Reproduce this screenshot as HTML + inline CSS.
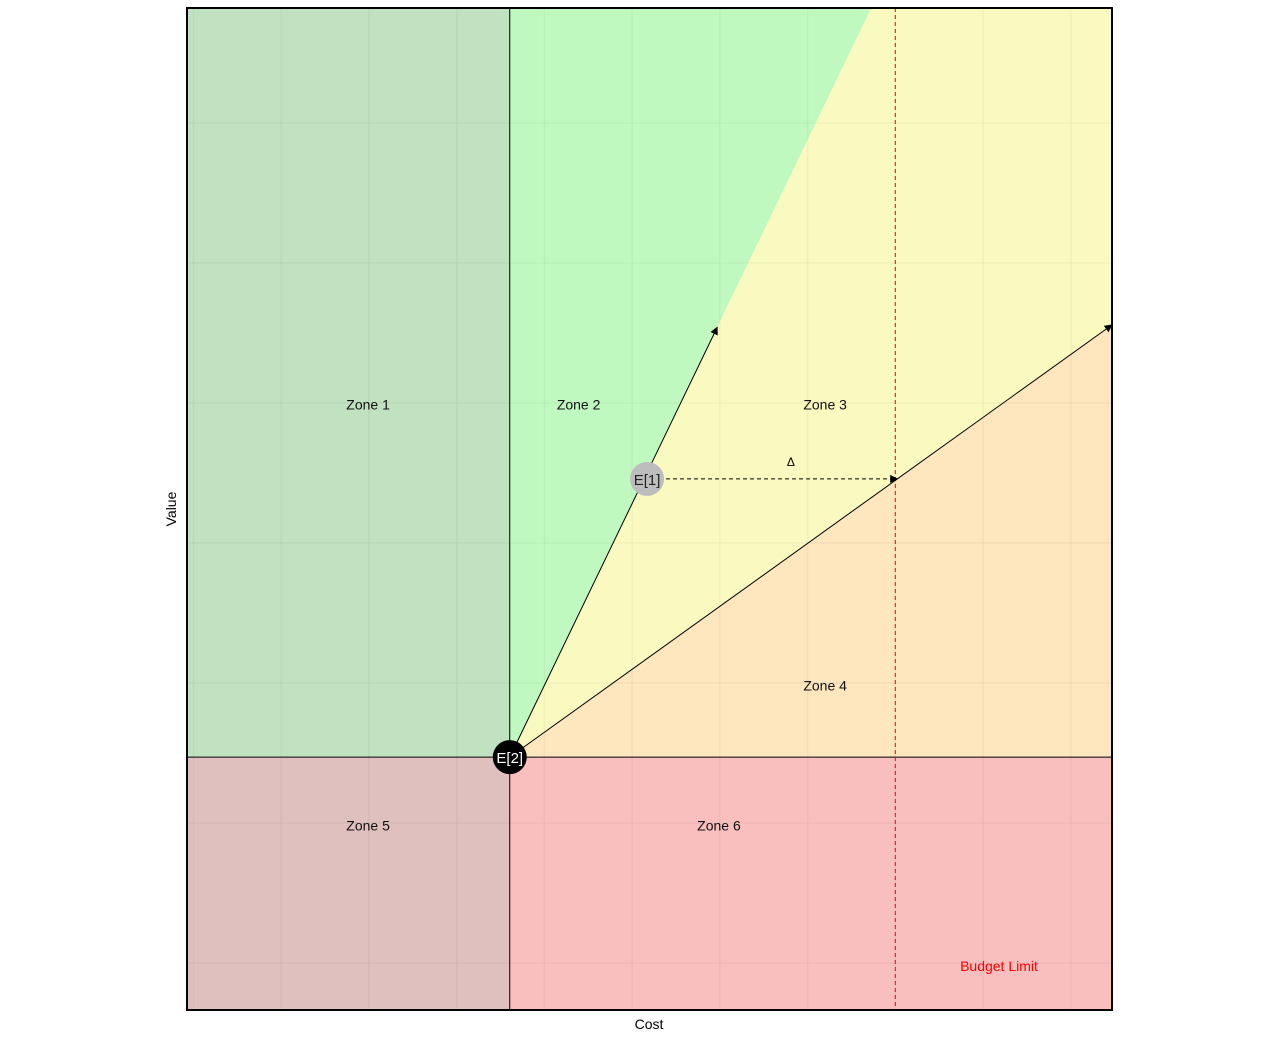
<!DOCTYPE html>
<html><head><meta charset="utf-8"><style>
html,body{margin:0;padding:0;background:#fff;}
svg{display:block;font-family:"Liberation Sans",Arial,sans-serif;}
</style></head><body>
<svg id="chart" width="1277" height="1040" viewBox="0 0 1277 1040" xmlns="http://www.w3.org/2000/svg">
<defs>
<marker id="arr" viewBox="0 0 10 10" refX="9" refY="5" markerWidth="8" markerHeight="8" markerUnits="userSpaceOnUse" orient="auto"><path d="M0,0 L10,5 L0,10 z" fill="#000"/></marker>
<clipPath id="clip"><rect x="187" y="8" width="925" height="1002"/></clipPath>
</defs>
<g id="plot" clip-path="url(#clip)"></g>
<g id="over"></g>
<rect x="187" y="8" width="925" height="1002" fill="none" stroke="#000" stroke-width="2"/>
<text x="649" y="1029" font-size="14" text-anchor="middle">Cost</text>
<text x="176" y="509" font-size="14" text-anchor="middle" transform="rotate(-90 176 509)">Value</text>
</svg>
<script>
// data
const xDomain = [-0.074, 10.47];
const yDomain = [-0.336, 6.82];
const xGrid = [0,1,2,3,4,5,6,7,8,9,10];
const yGrid = [0,1,2,3,4,5,6];
const e2 = [3.605, 1.47];
const e1 = [5.17, 3.457];
const arrow1End = [5.97, 4.54];
const arrow2End = [10.47, 4.557];
const budget = [8.0];
const zoneNames = ["Zone 1","Zone 2","Zone 3","Zone 4","Zone 5","Zone 6"];
const zoneLabelX = [1.99, 4.39, 7.20, 7.20, 1.99, 5.99];
const zoneLabelY = [3.99, 3.99, 3.99, 1.98, 0.98, 0.98];
const deltaLabelX = [6.81];

const X0=187,X1=1112,Y0=1010,Y1=8;
const sx=v=>X0+(v-xDomain[0])/(xDomain[1]-xDomain[0])*(X1-X0);
const sy=v=>Y0-(v-yDomain[0])/(yDomain[1]-yDomain[0])*(Y0-Y1);
const NS="http://www.w3.org/2000/svg";
const plot=document.getElementById('plot'), over=document.getElementById('over');
function mk(tag,attrs,parent){const el=document.createElementNS(NS,tag);for(const k in attrs)el.setAttribute(k,attrs[k]);parent.appendChild(el);return el;}

const ex=sx(e2[0]), ey=sy(e2[1]);
const d1x=sx(arrow1End[0])-ex, d1y=sy(arrow1End[1])-ey;
const tTop=(Y1-ey)/d1y; const topX=ex+d1x*tTop;
const d2x=sx(arrow2End[0])-ex, d2y=sy(arrow2End[1])-ey;
const tR=(X1-ex)/d2x; const rY=ey+d2y*tR;

let p;
p=mk('rect',{x:X0,y:Y1,width:ex-X0,height:ey-Y1,fill:'#c0e2c0'},plot);

p=mk('polygon',{points:`${ex},${ey} ${ex},${Y1} ${topX},${Y1}`,fill:'#c0f9c0'},plot);

p=mk('polygon',{points:`${ex},${ey} ${topX},${Y1} ${X1},${Y1} ${X1},${rY}`,fill:'#f9f9c0'},plot);

p=mk('polygon',{points:`${ex},${ey} ${X1},${rY} ${X1},${ey}`,fill:'#fee6be'},plot);

p=mk('rect',{x:X0,y:ey,width:ex-X0,height:Y0-ey,fill:'#e0bfbf'},plot);

p=mk('rect',{x:ex,y:ey,width:X1-ex,height:Y0-ey,fill:'#f9bfbf'},plot);


xGrid.forEach(v=>{const l=mk('line',{x1:sx(v),x2:sx(v),y1:Y1,y2:Y0,stroke:'rgba(0,0,0,0.035)','stroke-width':1.5},plot);
});
yGrid.forEach(v=>{const l=mk('line',{x1:X0,x2:X1,y1:sy(v),y2:sy(v),stroke:'rgba(0,0,0,0.035)','stroke-width':1.5},plot);
});

let l;
l=mk('line',{x1:ex,x2:ex,y1:Y1,y2:Y0,stroke:'#000','stroke-width':1},plot);

l=mk('line',{x1:X0,x2:X1,y1:ey,y2:ey,stroke:'#000','stroke-width':1},plot);

l=mk('line',{x1:sx(budget[0]),x2:sx(budget[0]),y1:Y1,y2:Y0,stroke:'#f00','stroke-width':1,'stroke-dasharray':'4,3'},plot);

l=mk('line',{x1:ex,y1:ey,x2:sx(arrow1End[0]),y2:sy(arrow1End[1]),stroke:'#000','stroke-width':1,'marker-end':'url(#arr)'},plot);

l=mk('line',{x1:ex,y1:ey,x2:sx(arrow2End[0]),y2:sy(arrow2End[1]),stroke:'#000','stroke-width':1,'marker-end':'url(#arr)'},plot);

const ty=sy(e1[1]); const tt=(ty-ey)/d2y; const hx=ex+d2x*tt;
l=mk('line',{x1:sx(e1[0])+12,y1:ty,x2:hx,y2:ty,stroke:'#000','stroke-width':1,'stroke-dasharray':'4,3','marker-end':'url(#arr)'},plot);

let t=mk('text',{x:sx(deltaLabelX[0]),y:ty-13,'font-size':12,'text-anchor':'middle'},plot);t.textContent='Δ';


zoneNames.forEach((n,i)=>{const z=mk('text',{x:sx(zoneLabelX[i]),y:sy(zoneLabelY[i])+5,'font-size':14,'text-anchor':'middle',fill:'#111'},plot);z.textContent=n;
});
t=mk('text',{x:999,y:971,'font-size':14,'text-anchor':'middle',fill:'#f00'},plot);t.textContent='Budget Limit';


let c=mk('circle',{cx:sx(e1[0]),cy:ty,r:17,fill:'#bdbdbd'},over);

t=mk('text',{x:sx(e1[0]),y:ty+6,'font-size':15,'text-anchor':'middle',fill:'#222'},over);t.textContent='E[1]';

c=mk('circle',{cx:ex,cy:ey,r:17,fill:'#000'},over);

t=mk('text',{x:ex,y:ey+6,'font-size':15,'text-anchor':'middle',fill:'#fff'},over);t.textContent='E[2]';

</script>
</body></html>
